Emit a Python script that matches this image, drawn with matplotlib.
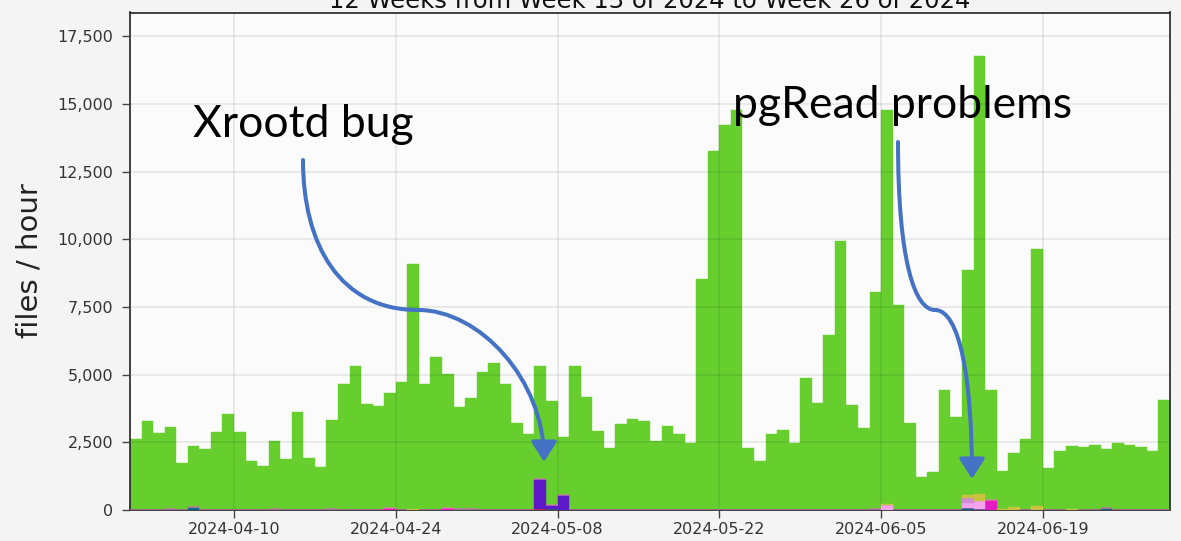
import datetime as dt
import numpy as np
import matplotlib
matplotlib.use("Agg")
import matplotlib.pyplot as plt
import matplotlib.dates as mdates
from matplotlib.path import Path
from matplotlib.patches import FancyArrowPatch
from matplotlib.ticker import FuncFormatter, MultipleLocator

title = "12 Weeks from Week 13 of 2024 to Week 26 of 2024"
start_day = "2024-04-01"

# daily values (files / hour), green is the bulk
green = [2620, 3280, 2860, 3050, 1750, 2240, 2240, 2900, 3560, 2900,
         1810, 1640, 2510, 1870, 3610, 1910, 1580, 3290, 4650, 5320,
         3900, 3840, 4220, 4720, 9060, 4670, 5650, 4940, 3780, 4110,
         5100, 5420, 4650, 3230, 2800, 4170, 3850, 2160, 5320, 4160,
         2910, 2300, 3180, 3350, 3280, 2540, 3120, 2800, 2460, 8520,
         13250, 14220, 14780, 2300, 1820, 2800, 2960, 2460, 4890, 3960,
         6480, 9940, 3890, 3020, 8000, 14560, 7570, 3230, 1210, 1420,
         4450, 3450, 8290, 16180, 4080, 1400, 2020, 2620, 9510, 1540,
         2180, 2320, 2320, 2400, 2180, 2460, 2410, 2320, 2190, 4060]

# small contributions stacked under the green, by day
teal = {"2024-04-06": 110, "2024-04-13": 40, "2024-04-18": 40, "2024-04-29": 40,
        "2024-04-30": 40, "2024-05-07": 40, "2024-06-12": 60, "2024-06-13": 50,
        "2024-06-24": 60}
red = {"2024-05-06": 30, "2024-06-12": 25}
purple = {"2024-04-04": 30, "2024-05-06": 1120, "2024-05-07": 130, "2024-05-08": 540,
          "2024-06-04": 40}
magenta = {"2024-04-23": 60, "2024-04-28": 80, "2024-06-14": 370}
pink = {"2024-06-05": 180, "2024-06-12": 170, "2024-06-13": 270}
orchid = {"2024-06-12": 200}
olive = {"2024-04-23": 30, "2024-04-25": 20, "2024-06-05": 30, "2024-06-12": 110,
         "2024-06-13": 270, "2024-06-15": 25, "2024-06-16": 100, "2024-06-18": 150,
         "2024-06-21": 30}

date_ticks = ["2024-04-10", "2024-04-24", "2024-05-08", "2024-05-22", "2024-06-05", "2024-06-19"]

t0 = dt.date.fromisoformat(start_day)
days = [t0 + dt.timedelta(days=i) for i in range(len(green))]
x = mdates.date2num(days)

def dense(d):
    out = np.zeros(len(green))
    for k, v in d.items():
        out[(dt.date.fromisoformat(k) - t0).days] = v
    return out

fig = plt.figure(figsize=(11.81, 5.41), dpi=100, facecolor="#f4f4f4")
ax = fig.add_axes([130/1181, 1-510/541, 1040/1181, 497.5/541])
ax.set_facecolor("#fbfbfb")

stack = [(teal, "#0c6b8a"), (red, "#d8263c"), (purple, "#5e1ac8"), (magenta, "#e51bc4"),
         (pink, "#f6a3ee"), (orchid, "#d38ad6"), (olive, "#c8c23e")]
bottom = np.zeros(len(green))
for d, c in stack:
    v = dense(d)
    ax.bar(x, v, width=1.0, align="edge", bottom=bottom, color=c, edgecolor=c, linewidth=0.3, zorder=3)
    bottom += v
ax.bar(x, green, width=1.0, align="edge", bottom=bottom, color="#66cf2e", edgecolor="#66cf2e",
       linewidth=0.3, zorder=2)

ax.set_xlim(x[0], x[-1] + 1)
ax.set_ylim(0, 18380)
ax.yaxis.set_major_locator(MultipleLocator(2500))
ax.yaxis.set_major_formatter(FuncFormatter(lambda v, p: f"{v:,.0f}"))
ax.set_xticks(mdates.date2num([dt.date.fromisoformat(d) for d in date_ticks]))
ax.set_xticklabels(date_ticks)
ax.tick_params(labelsize=11.5, labelcolor="#333333", length=6, width=1, color="#444444")
ax.tick_params(axis="y", pad=6)
ax.tick_params(axis="x", pad=3)
ax.grid(True, color="k", alpha=0.08, linewidth=1.3, zorder=5)
ax.set_axisbelow(False)
for s in ax.spines.values():
    s.set_linewidth(1.2)
    s.set_color("#222222")

fig.text(650/1181, 1-8/541, title, ha="center", va="baseline", fontsize=17.5, color="#111111")
fig.text(30/1181, 0.5 - 0/541 - (261-270.5)/541, "files / hour", rotation=90, ha="center", va="center",
         fontsize=21, color="#222222")

fig.text(193/1181, 1-136.7/541, "Xrootd bug", family="Lato", fontsize=32, ha="left", va="baseline")
fig.text(733/1181, 1-118.5/541, "pgRead problems", family="Lato", fontsize=32, ha="left", va="baseline")

def px(p):
    return (p[0]/1181, 1 - p[1]/541)

C = Path.CURVE4
arrows = [
    [(303, 160), (303, 245), (340, 310), (418, 310), (480, 310), (544, 380), (544, 462)],
    [(898, 142), (898, 262), (915, 310), (935, 310), (960, 310), (972, 380), (972, 479)],
]
for pts in arrows:
    path = Path([px(p) for p in pts], [Path.MOVETO, C, C, C, C, C, C])
    fig.patches.append(FancyArrowPatch(path=path, transform=fig.transFigure,
                                       arrowstyle="-|>,head_length=0.55,head_width=0.35",
                                       mutation_scale=22, color="#4472c4", linewidth=2.9))

fig.savefig("out.png", dpi=100, facecolor=fig.get_facecolor())
